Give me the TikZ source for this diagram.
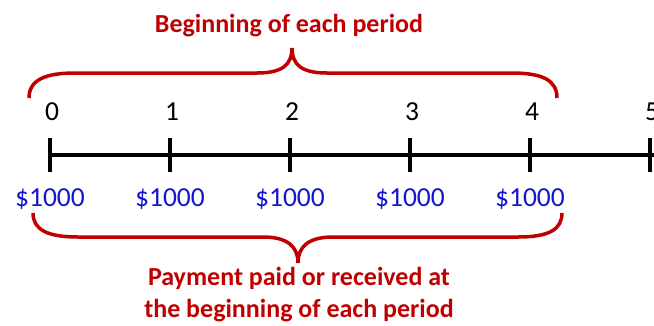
\documentclass[tikz,border=0pt]{standalone}
\usepackage{fontspec}
\setmainfont{Carlito}
\definecolor{bracered}{HTML}{C00000}
\definecolor{payblue}{HTML}{1414D2}
\begin{document}
\begin{tikzpicture}[x=1pt,y=-1pt,
  axisline/.style={line width=3.5pt,black},
  brace/.style={line width=3.5pt,bracered},
  ticklabel/.style={font=\fontsize{27.5}{27.5}\selectfont,text=black,inner sep=0pt,anchor=center},
  paylabel/.style={font=\fontsize{27.5}{27.5}\selectfont,text=payblue,inner sep=0pt,anchor=center},
  note/.style={font=\fontsize{26}{32}\selectfont\bfseries,text=bracered,align=center,inner sep=0pt}]
\useasboundingbox (0,0) rectangle (654,325);
% axis
\coordinate (start) at (50,155);
\coordinate (finish) at (660,155);
\draw[axisline] (start) -- (finish);
\foreach \i in {0,...,5}{
  \coordinate (t\i) at (50+120*\i,155);
  \draw[axisline] (50+120*\i,138) -- (50+120*\i,172);
  \node[ticklabel] (n\i) at (52+120*\i,112) {\i};
}
\foreach \i in {0,...,4}{
  \node[paylabel] (p\i) at (50+120*\i,199) {\$1000};
}
% upper brace
\draw[brace] (29,98) .. controls (29,80) and (45,73) .. (75,73) -- (257,73)
  .. controls (282,73) and (292,65) .. (292,48)
  .. controls (292,65) and (302,73) .. (327,73) -- (512,73)
  .. controls (542,73) and (557,80) .. (557,98);
\node[note] (top) at (289,26) {Beginning of each period};
% lower brace
\draw[brace] (33,213) .. controls (33,230) and (48,237) .. (78,237) -- (263,237)
  .. controls (288,237) and (298,247) .. (298,263)
  .. controls (298,247) and (308,237) .. (333,237) -- (518,237)
  .. controls (548,237) and (562,230) .. (562,213);
\node[note] (bottom) at (299,295) {Payment paid or received at\\the beginning of each period};
\end{tikzpicture}
\end{document}
